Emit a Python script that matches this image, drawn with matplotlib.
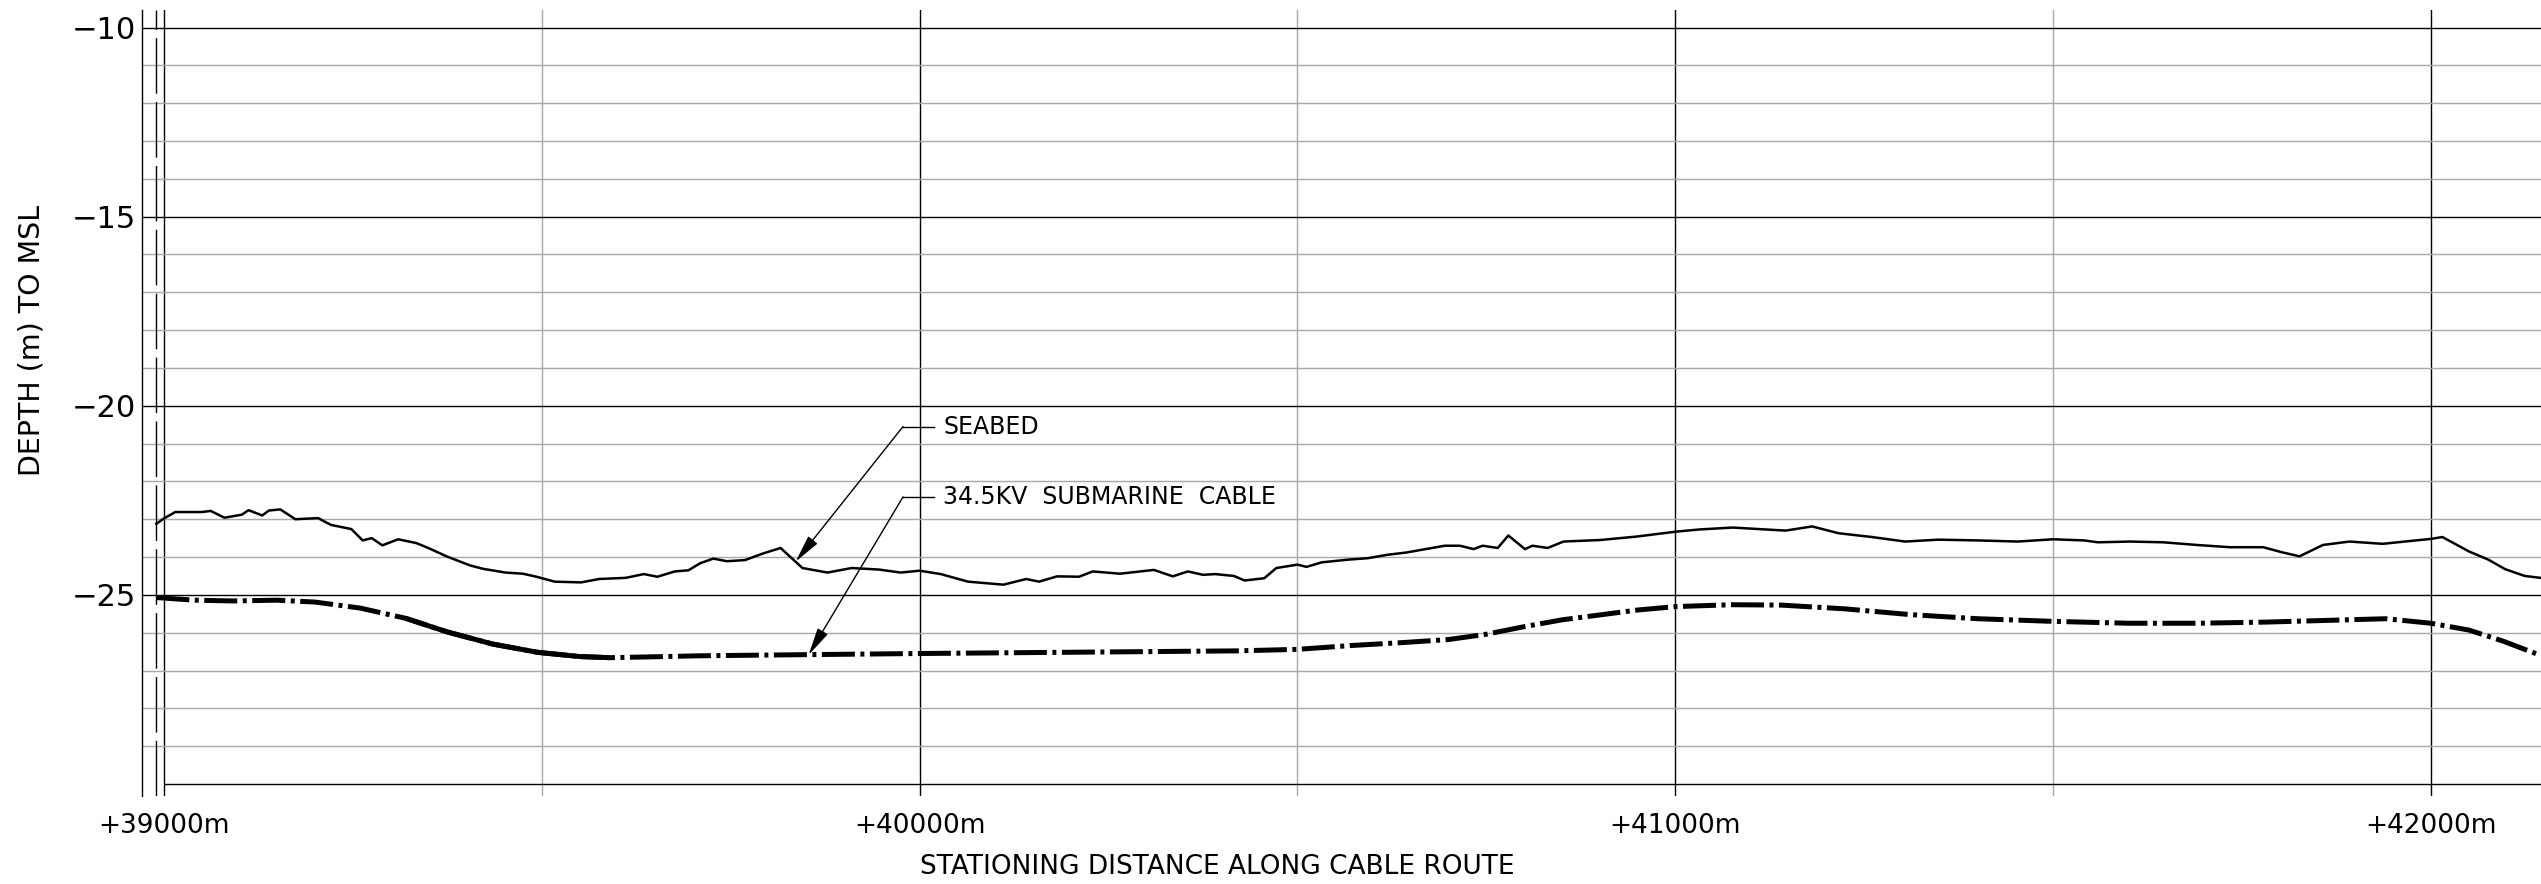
import numpy as np
import matplotlib
matplotlib.use('Agg')
import matplotlib.pyplot as plt
from matplotlib.ticker import FixedLocator

plt.rcParams['font.family'] = ['DejaVu Sans']

# seabed profile (station m, depth m)
seabed_x = [38990, 39000, 39015, 39050, 39062, 39080, 39103, 39112, 39130, 39139,
            39154, 39174, 39204, 39221, 39248, 39263, 39275, 39289, 39310, 39334,
            39351, 39375, 39405, 39422, 39452, 39475, 39493, 39517, 39552, 39576,
            39611, 39635, 39653, 39676, 39694, 39710, 39727, 39745, 39769, 39792,
            39816, 39845, 39878, 39910, 39946, 39975, 40000, 40028, 40064, 40111,
            40141, 40158, 40182, 40211, 40229, 40265, 40310, 40335, 40355, 40375,
            40391, 40416, 40430, 40456, 40472, 40500, 40512, 40532, 40566, 40593,
            40619, 40644, 40695, 40715, 40733, 40745, 40765, 40779, 40801, 40811,
            40831, 40852, 40900, 40948, 41000, 41032, 41076, 41119, 41146, 41181,
            41216, 41260, 41304, 41348, 41400, 41453, 41500, 41541, 41559, 41602,
            41646, 41690, 41734, 41778, 41804, 41826, 41857, 41892, 41936, 41980,
            42000, 42015, 42050, 42076, 42098, 42124, 42145]
seabed_y = [-23.12, -22.98, -22.81, -22.81, -22.78, -22.96, -22.88, -22.76, -22.90, -22.77,
            -22.74, -23.00, -22.97, -23.15, -23.26, -23.56, -23.50, -23.69, -23.53, -23.63,
            -23.77, -23.99, -24.22, -24.31, -24.41, -24.44, -24.52, -24.65, -24.67, -24.58,
            -24.55, -24.45, -24.52, -24.38, -24.35, -24.16, -24.04, -24.11, -24.08, -23.91,
            -23.76, -24.29, -24.41, -24.29, -24.33, -24.41, -24.36, -24.45, -24.65, -24.73,
            -24.58, -24.65, -24.51, -24.52, -24.38, -24.44, -24.34, -24.51, -24.38, -24.47,
            -24.45, -24.50, -24.62, -24.56, -24.29, -24.20, -24.26, -24.14, -24.07, -24.03,
            -23.94, -23.88, -23.70, -23.70, -23.79, -23.70, -23.76, -23.43, -23.79, -23.70,
            -23.76, -23.59, -23.55, -23.46, -23.33, -23.27, -23.22, -23.27, -23.30, -23.19,
            -23.37, -23.47, -23.59, -23.54, -23.56, -23.59, -23.53, -23.56, -23.61, -23.59,
            -23.61, -23.68, -23.74, -23.74, -23.88, -23.98, -23.68, -23.59, -23.65, -23.56,
            -23.52, -23.47, -23.85, -24.07, -24.32, -24.50, -24.55]

# 34.5kV cable profile
cable_x = [38990, 39040, 39090, 39150, 39200, 39260, 39320, 39375, 39435, 39495,
           39550, 39590, 39640, 39710, 39850, 40000, 40180, 40300, 40420, 40500,
           40570, 40640, 40700, 40750, 40800, 40850, 40900, 40950, 41000, 41075,
           41140, 41225, 41310, 41400, 41500, 41600, 41690, 41780, 41870, 41940,
           42000, 42050, 42095, 42145]
cable_y = [-25.07, -25.14, -25.16, -25.14, -25.19, -25.35, -25.62, -25.98, -26.30, -26.52,
           -26.63, -26.66, -26.64, -26.61, -26.58, -26.55, -26.52, -26.50, -26.48, -26.44,
           -26.34, -26.26, -26.18, -26.04, -25.84, -25.66, -25.53, -25.40, -25.31, -25.26,
           -25.27, -25.37, -25.52, -25.63, -25.70, -25.75, -25.75, -25.72, -25.67, -25.63,
           -25.75, -25.93, -26.22, -26.60]

xtick_pos = [39000, 40000, 41000, 42000]
xtick_labels = ['+39000m', '+40000m', '+41000m', '+42000m']
ytick_pos = [-25, -20, -15, -10]
ytick_labels = ['\u221225', '\u221220', '\u221215', '\u221210']

fig = plt.figure(figsize=(25.41, 8.84), dpi=100)
ax = fig.add_axes([142 / 2541, 1 - 796 / 884, 1 - 142 / 2541, 786 / 884])
ax.set_xlim(38971, 42145.5)
ax.set_ylim(-30.317, -9.537)

# grid
ax.set_xticks(xtick_pos, xtick_labels)
ax.set_yticks(ytick_pos, ytick_labels)
ax.xaxis.set_minor_locator(FixedLocator([39500, 40500, 41500]))
ax.yaxis.set_minor_locator(FixedLocator(list(range(-29, -10))))
ax.grid(which='major', color='black', lw=1.0)
ax.grid(which='minor', color='#a8a8a8', lw=1.0)
ax.set_axisbelow(True)
ax.tick_params(which='both', length=0)
ax.tick_params(axis='y', pad=4, labelsize=22)
ax.tick_params(axis='x', pad=12, labelsize=19)
for s in ['top', 'right', 'bottom']:
    ax.spines[s].set_visible(False)
ax.spines['left'].set_linewidth(1.0)

ax.hlines(-30, 39000, 42145.5, color='black', lw=1.0)
ax.axvline(38990, color='black', lw=1.0, dashes=(40, 6))

# profiles
ax.plot(seabed_x, seabed_y, color='black', lw=1.8)
ax.plot(cable_x, cable_y, color='black', lw=3.6, dashes=(6.6, 1.1, 0.8, 1.1),
        dash_capstyle='butt')
cx = np.array(cable_x)
cy = np.array(cable_y)
seg = (cx >= 39320) & (cx <= 39590)
ax.plot(cx[seg], cy[seg], color='black', lw=3.6, solid_capstyle='butt')

# callouts
arrow = dict(arrowstyle='-|>,head_length=0.85,head_width=0.18', color='black',
             lw=1.0, shrinkA=0, shrinkB=0, mutation_scale=20)
ax.plot([39978, 40019], [-20.55, -20.55], color='black', lw=1.0)
ax.annotate('', xy=(39836, -24.12), xytext=(39978, -20.55), arrowprops=arrow)
ax.text(40031, -20.55, 'SEABED', fontsize=17, va='center', ha='left')
ax.plot([39978, 40019], [-22.41, -22.41], color='black', lw=1.0)
ax.annotate('', xy=(39853, -26.59), xytext=(39978, -22.41), arrowprops=arrow)
ax.text(40031, -22.41, '34.5KV  SUBMARINE  CABLE', fontsize=17, va='center', ha='left')

ax.set_ylabel('DEPTH (m) TO MSL', fontsize=20.5, va='center')
ax.yaxis.set_label_coords(-0.0459, 0.580)
ax.set_xlabel('STATIONING DISTANCE ALONG CABLE ROUTE', fontsize=19, va='center')
ax.xaxis.set_label_coords(0.448, -0.0903)

fig.savefig('out.png', dpi=100)
